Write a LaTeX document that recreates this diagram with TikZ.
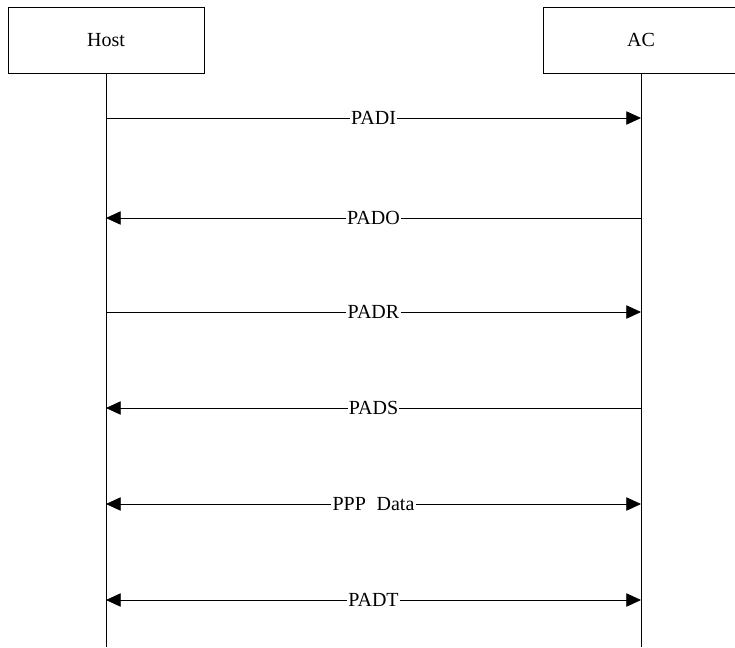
\documentclass[tikz,border=0pt]{standalone}
\usepackage{fontspec}
\setmainfont{Liberation Serif}
\usetikzlibrary{arrows.meta}
\tikzset{
  party/.style={draw,line width=0.6pt,minimum width=147pt,minimum height=49.5pt,font=\fontsize{15}{18}\selectfont},
  lifeline/.style={line width=0.6pt},
  msg/.style={line width=0.6pt},
  tofwd/.style={-{Triangle[length=11pt,width=10pt]}},
  toback/.style={{Triangle[length=11pt,width=10pt]}-},
  toboth/.style={{Triangle[length=11pt,width=10pt]}-{Triangle[length=11pt,width=10pt]}},
  msglabel/.style={fill=white,inner sep=1pt,font=\fontsize{15}{18}\selectfont}
}

\begin{document}
\begin{tikzpicture}[x=0.75pt,y=-0.75pt]
    \useasboundingbox (0,0) rectangle (735,647);
    \node[party] (host) at (106,40) {Host};
    \node[party] (ac) at (641,40) {AC};
    \coordinate (hostend) at (106,647);
    \coordinate (acend) at (641,647);
    \draw[lifeline] (host.south)--(hostend);
    \draw[lifeline] (ac.south)--(acend);
    \foreach \y/\dir/\txt [count=\i] in {118/tofwd/PADI,218/toback/PADO,312/tofwd/PADR,408/toback/PADS,504/toboth/PPP\hspace{8pt}Data,600/toboth/PADT} {
      \coordinate (h\i) at (host.south |- 0,\y);
      \coordinate (a\i) at (ac.south |- 0,\y);
      \draw[msg,\dir] (h\i)--(a\i) node[midway,msglabel]{\txt};
    }
  \end{tikzpicture}
\end{document}
